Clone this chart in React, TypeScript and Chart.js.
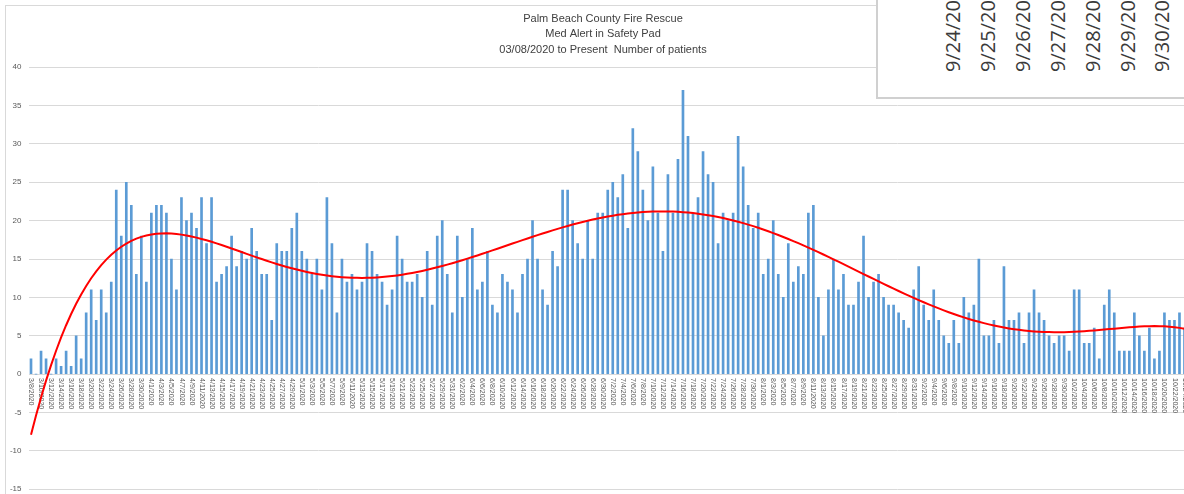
import React, { useEffect, useRef } from 'react';
import { Chart, registerables } from 'chart.js';

Chart.register(...registerables);

// ---------- data ----------
const TITLE_LINES = [
  'Palm Beach County Fire Rescue',
  'Med Alert in Safety Pad',
  '03/08/2020 to Present  Number of patients',
];

const START_YEAR = 2020;
const START_MONTH = 3; // March
const START_DAY = 8;

// daily number of patients, 3/8/2020 ... 10/24/2020
const PATIENTS = [
  2, 0, 3, 2, 0, 2, 1, 3, 1, 5,
  2, 8, 11, 7, 11, 8, 12, 24, 18, 25,
  22, 13, 18, 12, 21, 22, 22, 21, 15, 11,
  23, 20, 21, 19, 23, 17, 23, 12, 13, 14,
  18, 14, 16, 15, 19, 16, 13, 13, 7, 17,
  16, 16, 19, 21, 16, 15, 13, 15, 11, 23,
  17, 8, 15, 12, 13, 11, 12, 17, 16, 13,
  12, 9, 11, 18, 15, 12, 12, 13, 10, 16,
  9, 18, 20, 13, 8, 18, 10, 15, 19, 11,
  12, 16, 9, 8, 13, 12, 11, 8, 13, 15,
  20, 15, 11, 9, 16, 14, 24, 24, 20, 17,
  15, 20, 15, 21, 21, 24, 25, 23, 26, 19,
  32, 29, 24, 20, 27, 21, 16, 26, 21, 28,
  37, 31, 21, 23, 29, 26, 25, 17, 21, 20,
  21, 31, 27, 22, 19, 21, 13, 15, 20, 13,
  10, 17, 12, 14, 13, 21, 22, 10, 5, 11,
  15, 11, 13, 9, 9, 12, 18, 10, 12, 13,
  10, 9, 9, 8, 7, 6, 11, 14, 9, 7,
  11, 7, 5, 4, 7, 4, 10, 8, 9, 15,
  5, 5, 7, 4, 14, 7, 7, 8, 4, 8,
  11, 8, 7, 5, 4, 5, 5, 3, 11, 11,
  4, 4, 6, 2, 9, 11, 8, 3, 3, 3,
  8, 5, 3, 6, 2, 3, 8, 7, 7, 8,
  6,
];

const Y_MIN = -15;
const Y_MAX = 40;
const Y_STEP = 5;
const TREND_ORDER = 6; // Excel polynomial trendline, order 6

const OVERLAY_DATES = [
  '9/24/2020', '9/25/2020', '9/26/2020', '9/27/2020',
  '9/28/2020', '9/29/2020', '9/30/2020',
];

// ---------- helpers ----------
function makeDateLabels(n: number): string[] {
  const out: string[] = [];
  const d = new Date(START_YEAR, START_MONTH - 1, START_DAY, 12);
  for (let i = 0; i < n; i++) {
    out.push(`${d.getMonth() + 1}/${d.getDate()}/${d.getFullYear()}`);
    d.setDate(d.getDate() + 1);
  }
  return out;
}

// least-squares polynomial trendline (x = 1..n, like Excel)
function polyTrend(ys: number[], order: number): number[] {
  const n = ys.length;
  const m = (n + 1) / 2;
  const h = (n - 1) / 2;
  const k = order + 1;
  const A: number[][] = Array.from({ length: k }, () => new Array(k + 1).fill(0));
  for (let i = 0; i < n; i++) {
    const t = (i + 1 - m) / h;
    const pw: number[] = [1];
    for (let p = 1; p < 2 * k; p++) pw.push(pw[p - 1] * t);
    for (let r = 0; r < k; r++) {
      for (let c = 0; c < k; c++) A[r][c] += pw[r + c];
      A[r][k] += pw[r] * ys[i];
    }
  }
  for (let col = 0; col < k; col++) {
    let piv = col;
    for (let r = col + 1; r < k; r++) if (Math.abs(A[r][col]) > Math.abs(A[piv][col])) piv = r;
    [A[col], A[piv]] = [A[piv], A[col]];
    for (let r = 0; r < k; r++) {
      if (r === col) continue;
      const f = A[r][col] / A[col][col];
      for (let c = col; c <= k; c++) A[r][c] -= f * A[col][c];
    }
  }
  const coef = A.map((row, i) => row[k] / row[i]);
  return ys.map((_, i) => {
    const t = (i + 1 - m) / h;
    let v = 0;
    for (let p = k - 1; p >= 0; p--) v = v * t + coef[p];
    return v;
  });
}

const CANVAS_W = 1206;
const CANVAS_H = 501;

export default function App() {
  const canvasRef = useRef<HTMLCanvasElement | null>(null);

  useEffect(() => {
    const canvas = canvasRef.current;
    if (!canvas) return;
    const labels = makeDateLabels(PATIENTS.length);
    const trend = polyTrend(PATIENTS, TREND_ORDER);

    const frame = {
      id: 'frame',
      beforeDraw(chart: any) {
        const ctx = chart.ctx;
        ctx.save();
        ctx.strokeStyle = '#d9d9d9';
        ctx.lineWidth = 1;
        ctx.strokeRect(5.5, 5.5, 4000, 4000);
        ctx.restore();
      },
    };

    const xLabels = {
      id: 'xLabels',
      beforeDatasetsDraw(chart: any) {
        const ctx = chart.ctx;
        const xs = chart.scales.x;
        const y0 = chart.scales.y.getPixelForValue(0);
        ctx.save();
        ctx.fillStyle = '#595959';
        ctx.font = '7px "Liberation Sans", Arial, sans-serif';
        ctx.textAlign = 'left';
        ctx.textBaseline = 'middle';
        labels.forEach((lab, i) => {
          if (i % 2 !== 0) return;
          const x = xs.getPixelForValue(i);
          ctx.save();
          ctx.translate(x, y0 + 4);
          ctx.rotate(Math.PI / 2);
          ctx.fillText(lab, 0, 0);
          ctx.restore();
        });
        ctx.restore();
      },
    };

    const chart = new Chart(canvas, {
      type: 'bar',
      data: {
        labels,
        datasets: [
          {
            type: 'line',
            label: 'Trend',
            data: trend,
            borderColor: '#ff0000',
            borderWidth: 2,
            pointRadius: 0,
            tension: 0,
            order: 0,
          } as any,
          {
            type: 'bar',
            label: 'Patients',
            data: PATIENTS,
            backgroundColor: '#5b9bd5',
            barThickness: 2,
            order: 1,
          },
        ],
      },
      options: {
        responsive: false,
        animation: false,
        layout: { padding: { top: 0, left: 0, right: 0, bottom: 6 } },
        plugins: {
          legend: { display: false },
          tooltip: { enabled: false },
          title: {
            display: true,
            text: TITLE_LINES,
            color: '#404040',
            font: { family: '"Liberation Sans", Arial, sans-serif', size: 11, weight: 'normal', lineHeight: 1.4 },
            padding: { top: 11, bottom: 10 },
          },
        },
        scales: {
          x: {
            display: false,
            offset: true,
            grid: { display: false },
          },
          y: {
            min: Y_MIN,
            max: Y_MAX,
            position: 'left',
            ticks: {
              stepSize: Y_STEP,
              color: '#595959',
              font: { family: '"Liberation Sans", Arial, sans-serif', size: 8 },
              padding: 7,
            },
            grid: { color: '#d9d9d9', lineWidth: 1, drawTicks: false },
            border: { display: false },
            afterFit(s: any) { s.width = 28.5; },
          },
          yR: {
            type: 'linear',
            position: 'right',
            display: true,
            ticks: { display: false },
            grid: { display: false, drawTicks: false },
            border: { display: false },
            afterFit(s: any) { s.width = 19; },
          },
        },
      } as any,
      plugins: [frame, xLabels],
    });
    return () => chart.destroy();
  }, []);

  const centers = OVERLAY_DATES.map((_, i) => 953 + i * 34.9);

  return (
    <div style={{ position: 'fixed', left: 0, top: 0, width: 1184, height: 494, overflow: 'hidden', background: '#fff' }}>
      <canvas ref={canvasRef} width={CANVAS_W} height={CANVAS_H} style={{ position: 'absolute', left: 0, top: 0, display: 'block' }} />
      <div
        style={{
          position: 'absolute',
          left: 876,
          top: -10,
          width: 400,
          height: 109,
          boxSizing: 'border-box',
          border: '2px solid #d0d0d0',
          background: '#fff',
        }}
      />
      {OVERLAY_DATES.map((d, i) => (
        <span
          key={d}
          style={{
            position: 'absolute',
            left: centers[i] - 10,
            top: 72,
            transform: 'rotate(-90deg)',
            transformOrigin: '0 0',
            whiteSpace: 'nowrap',
            font: '20px "Open Sans", sans-serif',
            lineHeight: '20px',
            color: '#3a3a3a',
          }}
        >
          {d}
        </span>
      ))}
    </div>
  );
}
